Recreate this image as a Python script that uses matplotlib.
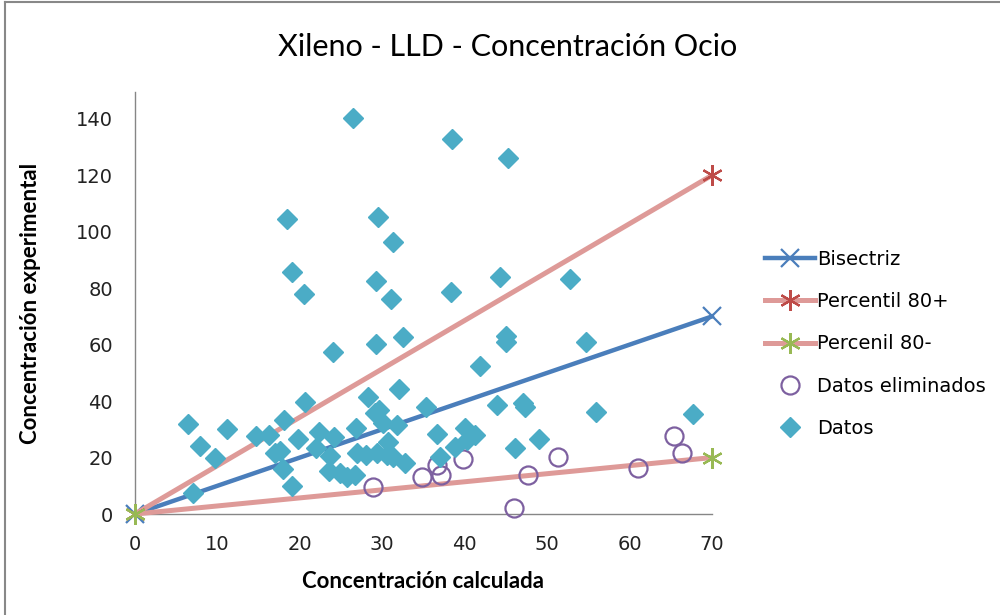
import matplotlib
matplotlib.use('Agg')
import matplotlib.pyplot as plt
from matplotlib.lines import Line2D

# reference lines (start and end points)
line_x = [0, 70]
bisectriz_y = [0, 70]
p80_plus_y = [0, 120]
p80_minus_y = [0, 20]

# points that were kept ("Datos")
datos_x = [6.4, 7.9, 9.7, 11.2, 7.0, 14.7, 16.3, 18.1, 20.6, 17.0,
           17.6, 18.0, 19.0, 19.8, 22.3, 22.0, 24.1, 23.7, 23.5, 24.9,
           25.7, 26.7, 26.8, 28.3, 29.1, 29.6, 30.1, 31.8, 32.0, 24.0,
           29.2, 32.5, 26.9, 28.0, 29.4, 30.6, 31.3, 30.7, 32.8, 35.3,
           26.4, 18.4, 29.5, 31.3, 19.0, 20.5, 29.2, 31.0, 38.5, 45.3,
           38.3, 44.3, 52.8, 45.0, 45.0, 54.7, 41.9, 43.9, 47.1, 47.3,
           55.9, 67.7, 36.6, 40.0, 41.2, 40.3, 38.8, 37.0, 46.1, 49.0]
datos_y = [32.0, 24.0, 20.0, 30.0, 7.4, 27.6, 27.9, 33.2, 39.6, 21.5,
           22.5, 15.8, 10.0, 26.5, 29.0, 23.3, 27.2, 20.5, 15.3, 14.6,
           13.1, 13.8, 30.4, 41.3, 35.7, 36.8, 32.2, 31.5, 44.2, 57.3,
           60.1, 62.6, 21.5, 20.8, 21.5, 20.8, 20.1, 25.5, 18.0, 37.8,
           140.3, 104.6, 105.3, 96.5, 85.9, 77.8, 82.7, 76.0, 132.9, 126.2,
           78.5, 83.8, 83.1, 63.0, 61.0, 60.8, 52.3, 38.5, 39.5, 37.8,
           36.1, 35.4, 28.5, 30.4, 27.9, 26.2, 23.7, 20.1, 23.3, 26.5]

# removed points ("Datos eliminados")
elim_x = [28.9, 34.8, 36.6, 37.1, 39.8, 47.7, 51.3, 46.0, 61.0, 65.4, 66.4]
elim_y = [9.5, 13.1, 17.5, 13.8, 19.4, 13.8, 20.1, 2.3, 16.3, 27.6, 21.5]

x_ticks = [0, 10, 20, 30, 40, 50, 60, 70]
y_ticks = [0, 20, 40, 60, 80, 100, 120, 140]

# asterisk-like marker (vertical bar + two diagonals)
star = (6, 2, 0)

fig = plt.figure(figsize=(10, 6.15), dpi=100)
ax = fig.add_axes([0.135, 0.1642, 0.577, 0.6862])

ax.plot(line_x, bisectriz_y, color='#4A7EBB', lw=3.2, marker='x',
        markersize=13, mew=1.6, label='Bisectriz', clip_on=False, zorder=3)
ax.plot(line_x, p80_plus_y, color='#DE9A98', lw=3.6, marker=star,
        markersize=15, mew=1.6, mec='#BE4B48', label='Percentil 80+',
        clip_on=False, zorder=3)
ax.plot(line_x, p80_minus_y, color='#DE9A98', lw=3.6, marker=star,
        markersize=15, mew=1.6, mec='#98B954', label='Percenil 80-',
        clip_on=False, zorder=3)
ax.plot(elim_x, elim_y, linestyle='none', marker='o', markersize=13,
        mfc='none', mec='#7D60A0', mew=1.6, label='Datos eliminados',
        clip_on=False, zorder=4)
ax.plot(datos_x, datos_y, linestyle='none', marker='D', markersize=10,
        color='#4BACC6', mec='#4BACC6', label='Datos', clip_on=False, zorder=5)

ax.set_xlim(0, 70)
ax.set_ylim(0, 149.5)
ax.set_xticks(x_ticks)
ax.set_yticks(y_ticks)
ax.tick_params(length=0, labelsize=14, colors='#222222')
ax.tick_params(axis='x', pad=15)
ax.tick_params(axis='y', pad=16)
for side in ['top', 'right']:
    ax.spines[side].set_visible(False)
for side in ['left', 'bottom']:
    ax.spines[side].set_color('#868686')
    ax.spines[side].set_linewidth(1.0)

ax.set_xlabel('Concentración calculada', family='Lato', fontweight='bold',
              fontsize=16, labelpad=12)
ax.set_ylabel('Concentración experimental', family='Lato', fontweight='bold',
              fontsize=16, labelpad=25)

fig.text(0.508, 0.924, 'Xileno - LLD - Concentración Ocio', family='Lato',
         fontsize=22, ha='center', va='center')

# legend on the right, no frame
leg = fig.legend(loc='center left', bbox_to_anchor=(0.755, 0.4407),
                 frameon=False, fontsize=14, handlelength=2.6,
                 handletextpad=0.1, labelspacing=1.2, borderpad=0)

# chart area border (only left and top visible in the screenshot)
fig.add_artist(Line2D([0.0045, 0.0045], [0, 0.997], color='#888888', lw=1.5))
fig.add_artist(Line2D([0.0045, 1.0], [0.997, 0.997], color='#888888', lw=1.5))

fig.savefig('out.png', dpi=100)
